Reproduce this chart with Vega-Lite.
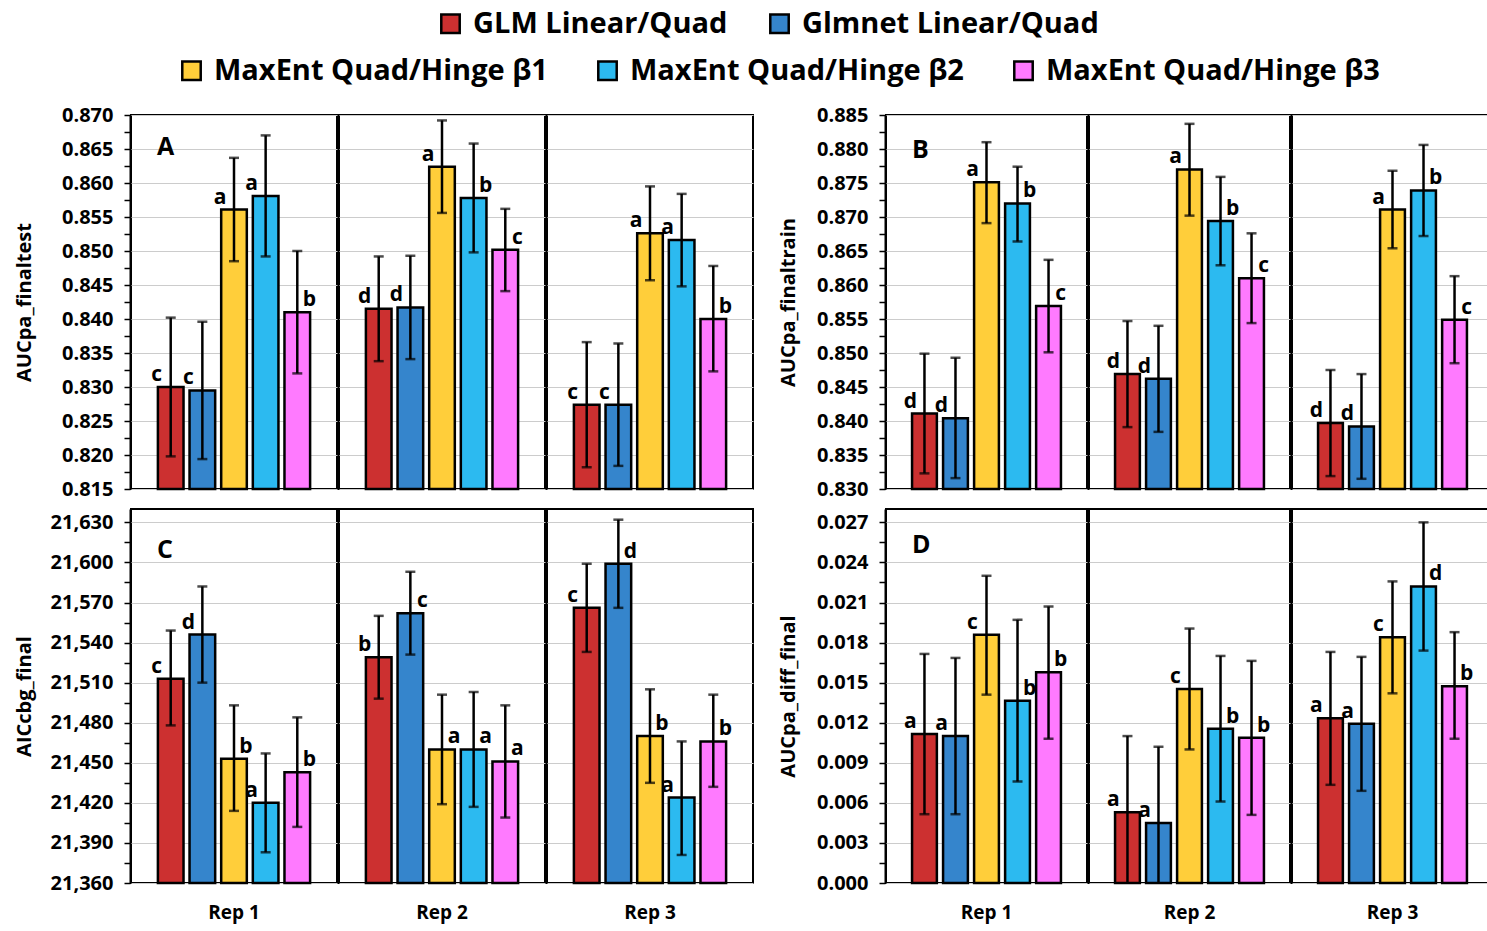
{
"$schema":"https://vega.github.io/schema/vega-lite/v6.json",
"background":"white",
"padding":{"left":14,"top":9,"right":0,"bottom":4},
"data":{"values":[
{"panel":"A","rep":"Rep 1","series":"GLM Linear/Quad","value":0.8300,"lo":0.8198,"hi":0.8402,"label":"c"},
{"panel":"A","rep":"Rep 1","series":"Glmnet Linear/Quad","value":0.8295,"lo":0.8194,"hi":0.8396,"label":"c"},
{"panel":"A","rep":"Rep 1","series":"MaxEnt Quad/Hinge β1","value":0.8561,"lo":0.8485,"hi":0.8637,"label":"a"},
{"panel":"A","rep":"Rep 1","series":"MaxEnt Quad/Hinge β2","value":0.8581,"lo":0.8492,"hi":0.8670,"label":"a"},
{"panel":"A","rep":"Rep 1","series":"MaxEnt Quad/Hinge β3","value":0.8410,"lo":0.8320,"hi":0.8500,"label":"b"},
{"panel":"A","rep":"Rep 2","series":"GLM Linear/Quad","value":0.8415,"lo":0.8338,"hi":0.8492,"label":"d"},
{"panel":"A","rep":"Rep 2","series":"Glmnet Linear/Quad","value":0.8417,"lo":0.8341,"hi":0.8493,"label":"d"},
{"panel":"A","rep":"Rep 2","series":"MaxEnt Quad/Hinge β1","value":0.8624,"lo":0.8556,"hi":0.8692,"label":"a"},
{"panel":"A","rep":"Rep 2","series":"MaxEnt Quad/Hinge β2","value":0.8578,"lo":0.8498,"hi":0.8658,"label":"b"},
{"panel":"A","rep":"Rep 2","series":"MaxEnt Quad/Hinge β3","value":0.8502,"lo":0.8441,"hi":0.8562,"label":"c"},
{"panel":"A","rep":"Rep 3","series":"GLM Linear/Quad","value":0.8274,"lo":0.8182,"hi":0.8366,"label":"c"},
{"panel":"A","rep":"Rep 3","series":"Glmnet Linear/Quad","value":0.8274,"lo":0.8184,"hi":0.8364,"label":"c"},
{"panel":"A","rep":"Rep 3","series":"MaxEnt Quad/Hinge β1","value":0.8526,"lo":0.8457,"hi":0.8595,"label":"a"},
{"panel":"A","rep":"Rep 3","series":"MaxEnt Quad/Hinge β2","value":0.8516,"lo":0.8448,"hi":0.8584,"label":"a"},
{"panel":"A","rep":"Rep 3","series":"MaxEnt Quad/Hinge β3","value":0.8400,"lo":0.8323,"hi":0.8478,"label":"b"},
{"panel":"B","rep":"Rep 1","series":"GLM Linear/Quad","value":0.8411,"lo":0.8323,"hi":0.8499,"label":"d"},
{"panel":"B","rep":"Rep 1","series":"Glmnet Linear/Quad","value":0.8404,"lo":0.8316,"hi":0.8493,"label":"d"},
{"panel":"B","rep":"Rep 1","series":"MaxEnt Quad/Hinge β1","value":0.8751,"lo":0.8691,"hi":0.8810,"label":"a"},
{"panel":"B","rep":"Rep 1","series":"MaxEnt Quad/Hinge β2","value":0.8720,"lo":0.8664,"hi":0.8774,"label":"b"},
{"panel":"B","rep":"Rep 1","series":"MaxEnt Quad/Hinge β3","value":0.8569,"lo":0.8501,"hi":0.8637,"label":"c"},
{"panel":"B","rep":"Rep 2","series":"GLM Linear/Quad","value":0.8469,"lo":0.8391,"hi":0.8547,"label":"d"},
{"panel":"B","rep":"Rep 2","series":"Glmnet Linear/Quad","value":0.8462,"lo":0.8384,"hi":0.8540,"label":"d"},
{"panel":"B","rep":"Rep 2","series":"MaxEnt Quad/Hinge β1","value":0.8770,"lo":0.8702,"hi":0.8837,"label":"a"},
{"panel":"B","rep":"Rep 2","series":"MaxEnt Quad/Hinge β2","value":0.8694,"lo":0.8629,"hi":0.8759,"label":"b"},
{"panel":"B","rep":"Rep 2","series":"MaxEnt Quad/Hinge β3","value":0.8610,"lo":0.8544,"hi":0.8676,"label":"c"},
{"panel":"B","rep":"Rep 3","series":"GLM Linear/Quad","value":0.8397,"lo":0.8319,"hi":0.8475,"label":"d"},
{"panel":"B","rep":"Rep 3","series":"Glmnet Linear/Quad","value":0.8392,"lo":0.8315,"hi":0.8469,"label":"d"},
{"panel":"B","rep":"Rep 3","series":"MaxEnt Quad/Hinge β1","value":0.8711,"lo":0.8654,"hi":0.8768,"label":"a"},
{"panel":"B","rep":"Rep 3","series":"MaxEnt Quad/Hinge β2","value":0.8739,"lo":0.8672,"hi":0.8806,"label":"b"},
{"panel":"B","rep":"Rep 3","series":"MaxEnt Quad/Hinge β3","value":0.8549,"lo":0.8485,"hi":0.8613,"label":"c"},
{"panel":"C","rep":"Rep 1","series":"GLM Linear/Quad","value":21513,"lo":21478,"hi":21549,"label":"c"},
{"panel":"C","rep":"Rep 1","series":"Glmnet Linear/Quad","value":21546,"lo":21510,"hi":21582,"label":"d"},
{"panel":"C","rep":"Rep 1","series":"MaxEnt Quad/Hinge β1","value":21453,"lo":21414,"hi":21493,"label":"b"},
{"panel":"C","rep":"Rep 1","series":"MaxEnt Quad/Hinge β2","value":21420,"lo":21383,"hi":21457,"label":"a"},
{"panel":"C","rep":"Rep 1","series":"MaxEnt Quad/Hinge β3","value":21443,"lo":21402,"hi":21484,"label":"b"},
{"panel":"C","rep":"Rep 2","series":"GLM Linear/Quad","value":21529,"lo":21498,"hi":21560,"label":"b"},
{"panel":"C","rep":"Rep 2","series":"Glmnet Linear/Quad","value":21562,"lo":21531,"hi":21593,"label":"c"},
{"panel":"C","rep":"Rep 2","series":"MaxEnt Quad/Hinge β1","value":21460,"lo":21419,"hi":21501,"label":"a"},
{"panel":"C","rep":"Rep 2","series":"MaxEnt Quad/Hinge β2","value":21460,"lo":21417,"hi":21503,"label":"a"},
{"panel":"C","rep":"Rep 2","series":"MaxEnt Quad/Hinge β3","value":21451,"lo":21409,"hi":21493,"label":"a"},
{"panel":"C","rep":"Rep 3","series":"GLM Linear/Quad","value":21566,"lo":21533,"hi":21599,"label":"c"},
{"panel":"C","rep":"Rep 3","series":"Glmnet Linear/Quad","value":21599,"lo":21566,"hi":21632,"label":"d"},
{"panel":"C","rep":"Rep 3","series":"MaxEnt Quad/Hinge β1","value":21470,"lo":21435,"hi":21505,"label":"b"},
{"panel":"C","rep":"Rep 3","series":"MaxEnt Quad/Hinge β2","value":21424,"lo":21381,"hi":21466,"label":"a"},
{"panel":"C","rep":"Rep 3","series":"MaxEnt Quad/Hinge β3","value":21466,"lo":21432,"hi":21501,"label":"b"},
{"panel":"D","rep":"Rep 1","series":"GLM Linear/Quad","value":0.01115,"lo":0.00515,"hi":0.01715,"label":"a"},
{"panel":"D","rep":"Rep 1","series":"Glmnet Linear/Quad","value":0.0110,"lo":0.00515,"hi":0.01685,"label":"a"},
{"panel":"D","rep":"Rep 1","series":"MaxEnt Quad/Hinge β1","value":0.01858,"lo":0.0141,"hi":0.0230,"label":"c"},
{"panel":"D","rep":"Rep 1","series":"MaxEnt Quad/Hinge β2","value":0.01365,"lo":0.0076,"hi":0.0197,"label":"b"},
{"panel":"D","rep":"Rep 1","series":"MaxEnt Quad/Hinge β3","value":0.01578,"lo":0.0108,"hi":0.0207,"label":"b"},
{"panel":"D","rep":"Rep 2","series":"GLM Linear/Quad","value":0.0053,"lo":-0.0004,"hi":0.0110,"label":"a"},
{"panel":"D","rep":"Rep 2","series":"Glmnet Linear/Quad","value":0.0045,"lo":-0.0012,"hi":0.0102,"label":"a"},
{"panel":"D","rep":"Rep 2","series":"MaxEnt Quad/Hinge β1","value":0.01453,"lo":0.0100,"hi":0.01905,"label":"c"},
{"panel":"D","rep":"Rep 2","series":"MaxEnt Quad/Hinge β2","value":0.01155,"lo":0.0061,"hi":0.0170,"label":"b"},
{"panel":"D","rep":"Rep 2","series":"MaxEnt Quad/Hinge β3","value":0.01088,"lo":0.0051,"hi":0.01663,"label":"b"},
{"panel":"D","rep":"Rep 3","series":"GLM Linear/Quad","value":0.01233,"lo":0.00735,"hi":0.0173,"label":"a"},
{"panel":"D","rep":"Rep 3","series":"Glmnet Linear/Quad","value":0.01193,"lo":0.0069,"hi":0.01693,"label":"a"},
{"panel":"D","rep":"Rep 3","series":"MaxEnt Quad/Hinge β1","value":0.0184,"lo":0.0142,"hi":0.02258,"label":"c"},
{"panel":"D","rep":"Rep 3","series":"MaxEnt Quad/Hinge β2","value":0.0222,"lo":0.0174,"hi":0.0270,"label":"d"},
{"panel":"D","rep":"Rep 3","series":"MaxEnt Quad/Hinge β3","value":0.01473,"lo":0.0108,"hi":0.01878,"label":"b"}
]},
"spacing":9,
"vconcat":[
{"spacing":24,"hconcat":[
{"transform":[{"filter":"datum.panel == 'A'"}],
 "title":{"text":"A","offset":-55},
 "facet":{"column":{"field":"rep","type":"nominal","title":null,"header":{"labels":false}}},
 "spacing":0,
 "spec":{"width":206,"height":374,"layer":[
  {"transform":[{"filter":{"field":"series","oneOf":["GLM Linear/Quad","Glmnet Linear/Quad"]}}],
   "mark":{"type":"bar","stroke":"black","strokeWidth":2.5},
   "encoding":{
    "x":{"field":"series","type":"nominal","sort":null,"scale":{"domain":["GLM Linear/Quad","Glmnet Linear/Quad","MaxEnt Quad/Hinge β1","MaxEnt Quad/Hinge β2","MaxEnt Quad/Hinge β3"],"paddingInner":0.19,"paddingOuter":0.85},"axis":null},
    "y":{"field":"value","type":"quantitative","stack":null,"scale":{"domain":[0.815,0.87],"nice":false,"zero":false},
     "axis":{"title":"AUCpa_finaltest","tickCount":100,"values":[0.815,0.8175,0.82,0.8225,0.825,0.8275,0.83,0.8325,0.835,0.8375,0.84,0.8425,0.845,0.8475,0.85,0.8525,0.855,0.8575,0.86,0.8625,0.865,0.8675,0.87],
      "labelExpr":"round(datum.value*10000) % 50 == 0 ? format(datum.value, '.3f') : ''","labelOverlap":false,
      "gridOpacity":{"condition":{"test":"round(datum.value*10000) % 50 != 0","value":0},"value":1},
      "minExtent":86,"maxExtent":86,"titlePadding":10}},
    "fill":{"field":"series","type":"nominal","scale":{"domain":["GLM Linear/Quad","Glmnet Linear/Quad"],"range":["#CC3030","#3585CC"]},
     "legend":{"orient":"none","legendX":305,"legendY":-106,"direction":"horizontal","title":null,"columnPadding":37}}}},
  {"transform":[{"filter":{"field":"series","oneOf":["MaxEnt Quad/Hinge β1","MaxEnt Quad/Hinge β2","MaxEnt Quad/Hinge β3"]}}],
   "mark":{"type":"bar","stroke":"black","strokeWidth":2.5},
   "encoding":{
    "x":{"field":"series","type":"nominal","sort":null},
    "y":{"field":"value","type":"quantitative","stack":null},
    "color":{"field":"series","type":"nominal","scale":{"domain":["MaxEnt Quad/Hinge β1","MaxEnt Quad/Hinge β2","MaxEnt Quad/Hinge β3"],"range":["#FFCE3A","#2CBAF0","#FF7AFF"]},
     "legend":{"orient":"none","legendX":46,"legendY":-59,"direction":"horizontal","title":null,"columnPadding":45}}}},
  {"mark":{"type":"rule","color":"black","strokeWidth":2.5,"clip":true},
   "encoding":{"x":{"field":"series","type":"nominal","sort":null},"y":{"field":"lo","type":"quantitative"},"y2":{"field":"hi"}}},
  {"mark":{"type":"tick","color":"black","thickness":2.5,"size":10,"clip":true},
   "encoding":{"x":{"field":"series","type":"nominal","sort":null},"y":{"field":"hi","type":"quantitative"}}},
  {"mark":{"type":"tick","color":"black","thickness":2.5,"size":10,"clip":true},
   "encoding":{"x":{"field":"series","type":"nominal","sort":null},"y":{"field":"lo","type":"quantitative"}}},
  {"transform":[{"filter":"!(datum.series == 'MaxEnt Quad/Hinge β3' || (datum.series == 'MaxEnt Quad/Hinge β2' && datum.rep == 'Rep 2'))"}],
   "mark":{"type":"text","dx":-14,"dy":-6,"baseline":"alphabetic","align":"center","font":"Open Sans","fontSize":21,"fontWeight":"bold","color":"black"},
   "encoding":{"x":{"field":"series","type":"nominal","sort":null},"y":{"field":"value","type":"quantitative"},"text":{"field":"label"}}},
  {"transform":[{"filter":"datum.series == 'MaxEnt Quad/Hinge β3' || (datum.series == 'MaxEnt Quad/Hinge β2' && datum.rep == 'Rep 2')"}],
   "mark":{"type":"text","dx":12,"dy":-6,"baseline":"alphabetic","align":"center","font":"Open Sans","fontSize":21,"fontWeight":"bold","color":"black"},
   "encoding":{"x":{"field":"series","type":"nominal","sort":null},"y":{"field":"value","type":"quantitative"},"text":{"field":"label"}}}
 ]}},
{"transform":[{"filter":"datum.panel == 'B'"}],
 "title":{"text":"B","offset":-58},
 "facet":{"column":{"field":"rep","type":"nominal","title":null,"header":{"labels":false}}},
 "spacing":0,
 "spec":{"width":201,"height":374,"layer":[
  {"transform":[{"filter":{"field":"series","oneOf":["GLM Linear/Quad","Glmnet Linear/Quad"]}}],
   "mark":{"type":"bar","stroke":"black","strokeWidth":2.5},
   "encoding":{
    "x":{"field":"series","type":"nominal","sort":null,"scale":{"domain":["GLM Linear/Quad","Glmnet Linear/Quad","MaxEnt Quad/Hinge β1","MaxEnt Quad/Hinge β2","MaxEnt Quad/Hinge β3"],"paddingInner":0.2,"paddingOuter":0.84},"axis":null},
    "y":{"field":"value","type":"quantitative","stack":null,"scale":{"domain":[0.83,0.885],"nice":false,"zero":false},
     "axis":{"title":"AUCpa_finaltrain","tickCount":100,"values":[0.83,0.8325,0.835,0.8375,0.84,0.8425,0.845,0.8475,0.85,0.8525,0.855,0.8575,0.86,0.8625,0.865,0.8675,0.87,0.8725,0.875,0.8775,0.88,0.8825,0.885],
      "labelExpr":"round(datum.value*10000) % 50 == 0 ? format(datum.value, '.3f') : ''","labelOverlap":false,
      "gridOpacity":{"condition":{"test":"round(datum.value*10000) % 50 != 0","value":0},"value":1},
      "minExtent":70,"maxExtent":70,"titlePadding":17}},
    "fill":{"field":"series","type":"nominal"}}},
  {"transform":[{"filter":{"field":"series","oneOf":["MaxEnt Quad/Hinge β1","MaxEnt Quad/Hinge β2","MaxEnt Quad/Hinge β3"]}}],
   "mark":{"type":"bar","stroke":"black","strokeWidth":2.5},
   "encoding":{"x":{"field":"series","type":"nominal","sort":null},"y":{"field":"value","type":"quantitative","stack":null},"color":{"field":"series","type":"nominal"}}},
  {"mark":{"type":"rule","color":"black","strokeWidth":2.5,"clip":true},
   "encoding":{"x":{"field":"series","type":"nominal","sort":null},"y":{"field":"lo","type":"quantitative"},"y2":{"field":"hi"}}},
  {"mark":{"type":"tick","color":"black","thickness":2.5,"size":10,"clip":true},
   "encoding":{"x":{"field":"series","type":"nominal","sort":null},"y":{"field":"hi","type":"quantitative"}}},
  {"mark":{"type":"tick","color":"black","thickness":2.5,"size":10,"clip":true},
   "encoding":{"x":{"field":"series","type":"nominal","sort":null},"y":{"field":"lo","type":"quantitative"}}},
  {"transform":[{"filter":{"not":{"field":"series","oneOf":["MaxEnt Quad/Hinge β2","MaxEnt Quad/Hinge β3"]}}}],
   "mark":{"type":"text","dx":-14,"dy":-6,"baseline":"alphabetic","align":"center","font":"Open Sans","fontSize":21,"fontWeight":"bold","color":"black"},
   "encoding":{"x":{"field":"series","type":"nominal","sort":null},"y":{"field":"value","type":"quantitative"},"text":{"field":"label"}}},
  {"transform":[{"filter":{"field":"series","oneOf":["MaxEnt Quad/Hinge β2","MaxEnt Quad/Hinge β3"]}}],
   "mark":{"type":"text","dx":12,"dy":-6,"baseline":"alphabetic","align":"center","font":"Open Sans","fontSize":21,"fontWeight":"bold","color":"black"},
   "encoding":{"x":{"field":"series","type":"nominal","sort":null},"y":{"field":"value","type":"quantitative"},"text":{"field":"label"}}}
 ]}}
]},
{"spacing":24,"hconcat":[
{"transform":[{"filter":"datum.panel == 'C'"}],
 "title":{"text":"C","offset":-55},
 "facet":{"column":{"field":"rep","type":"nominal","title":null,"header":{"labelOrient":"bottom"}}},
 "spacing":0,
 "spec":{"width":206,"height":374,"layer":[
  {"transform":[{"filter":{"field":"series","oneOf":["GLM Linear/Quad","Glmnet Linear/Quad"]}}],
   "mark":{"type":"bar","stroke":"black","strokeWidth":2.5},
   "encoding":{
    "x":{"field":"series","type":"nominal","sort":null,"scale":{"domain":["GLM Linear/Quad","Glmnet Linear/Quad","MaxEnt Quad/Hinge β1","MaxEnt Quad/Hinge β2","MaxEnt Quad/Hinge β3"],"paddingInner":0.19,"paddingOuter":0.85},"axis":null},
    "y":{"field":"value","type":"quantitative","stack":null,"scale":{"domain":[21360,21640],"nice":false,"zero":false},
     "axis":{"title":"AICcbg_final","tickCount":100,"values":[21360,21375,21390,21405,21420,21435,21450,21465,21480,21495,21510,21525,21540,21555,21570,21585,21600,21615,21630],
      "labelExpr":"round(datum.value/15) % 2 == 1 ? '' : format(datum.value, ',')","labelOverlap":false,
      "gridOpacity":{"condition":{"test":"round(datum.value/15) % 2 == 1","value":0},"value":1},
      "minExtent":86,"maxExtent":86,"titlePadding":10}},
    "fill":{"field":"series","type":"nominal"}}},
  {"transform":[{"filter":{"field":"series","oneOf":["MaxEnt Quad/Hinge β1","MaxEnt Quad/Hinge β2","MaxEnt Quad/Hinge β3"]}}],
   "mark":{"type":"bar","stroke":"black","strokeWidth":2.5},
   "encoding":{"x":{"field":"series","type":"nominal","sort":null},"y":{"field":"value","type":"quantitative","stack":null},"color":{"field":"series","type":"nominal"}}},
  {"mark":{"type":"rule","color":"black","strokeWidth":2.5,"clip":true},
   "encoding":{"x":{"field":"series","type":"nominal","sort":null},"y":{"field":"lo","type":"quantitative"},"y2":{"field":"hi"}}},
  {"mark":{"type":"tick","color":"black","thickness":2.5,"size":10,"clip":true},
   "encoding":{"x":{"field":"series","type":"nominal","sort":null},"y":{"field":"hi","type":"quantitative"}}},
  {"mark":{"type":"tick","color":"black","thickness":2.5,"size":10,"clip":true},
   "encoding":{"x":{"field":"series","type":"nominal","sort":null},"y":{"field":"lo","type":"quantitative"}}},
  {"transform":[{"filter":"!(datum.series == 'MaxEnt Quad/Hinge β1' || datum.series == 'MaxEnt Quad/Hinge β3' || (datum.series == 'MaxEnt Quad/Hinge β2' && datum.rep == 'Rep 2') || (datum.series == 'Glmnet Linear/Quad' && datum.rep != 'Rep 1'))"}],
   "mark":{"type":"text","dx":-14,"dy":-6,"baseline":"alphabetic","align":"center","font":"Open Sans","fontSize":21,"fontWeight":"bold","color":"black"},
   "encoding":{"x":{"field":"series","type":"nominal","sort":null},"y":{"field":"value","type":"quantitative"},"text":{"field":"label"}}},
  {"transform":[{"filter":"datum.series == 'MaxEnt Quad/Hinge β1' || datum.series == 'MaxEnt Quad/Hinge β3' || (datum.series == 'MaxEnt Quad/Hinge β2' && datum.rep == 'Rep 2') || (datum.series == 'Glmnet Linear/Quad' && datum.rep != 'Rep 1')"}],
   "mark":{"type":"text","dx":12,"dy":-6,"baseline":"alphabetic","align":"center","font":"Open Sans","fontSize":21,"fontWeight":"bold","color":"black"},
   "encoding":{"x":{"field":"series","type":"nominal","sort":null},"y":{"field":"value","type":"quantitative"},"text":{"field":"label"}}}
 ]}},
{"transform":[{"filter":"datum.panel == 'D'"}],
 "title":{"text":"D","offset":-50},
 "facet":{"column":{"field":"rep","type":"nominal","title":null,"header":{"labelOrient":"bottom"}}},
 "spacing":0,
 "spec":{"width":201,"height":374,"layer":[
  {"transform":[{"filter":{"field":"series","oneOf":["GLM Linear/Quad","Glmnet Linear/Quad"]}}],
   "mark":{"type":"bar","stroke":"black","strokeWidth":2.5},
   "encoding":{
    "x":{"field":"series","type":"nominal","sort":null,"scale":{"domain":["GLM Linear/Quad","Glmnet Linear/Quad","MaxEnt Quad/Hinge β1","MaxEnt Quad/Hinge β2","MaxEnt Quad/Hinge β3"],"paddingInner":0.2,"paddingOuter":0.84},"axis":null},
    "y":{"field":"value","type":"quantitative","stack":null,"scale":{"domain":[0,0.028],"nice":false,"zero":false},
     "axis":{"title":"AUCpa_diff_final","tickCount":100,"values":[0,0.0015,0.003,0.0045,0.006,0.0075,0.009,0.0105,0.012,0.0135,0.015,0.0165,0.018,0.0195,0.021,0.0225,0.024,0.0255,0.027],
      "labelExpr":"round(datum.value/0.0015) % 2 == 1 ? '' : format(datum.value, '.3f')","labelOverlap":false,
      "gridOpacity":{"condition":{"test":"round(datum.value/0.0015) % 2 == 1","value":0},"value":1},
      "minExtent":70,"maxExtent":70,"titlePadding":17}},
    "fill":{"field":"series","type":"nominal"}}},
  {"transform":[{"filter":{"field":"series","oneOf":["MaxEnt Quad/Hinge β1","MaxEnt Quad/Hinge β2","MaxEnt Quad/Hinge β3"]}}],
   "mark":{"type":"bar","stroke":"black","strokeWidth":2.5},
   "encoding":{"x":{"field":"series","type":"nominal","sort":null},"y":{"field":"value","type":"quantitative","stack":null},"color":{"field":"series","type":"nominal"}}},
  {"mark":{"type":"rule","color":"black","strokeWidth":2.5,"clip":true},
   "encoding":{"x":{"field":"series","type":"nominal","sort":null},"y":{"field":"lo","type":"quantitative"},"y2":{"field":"hi"}}},
  {"mark":{"type":"tick","color":"black","thickness":2.5,"size":10,"clip":true},
   "encoding":{"x":{"field":"series","type":"nominal","sort":null},"y":{"field":"hi","type":"quantitative"}}},
  {"mark":{"type":"tick","color":"black","thickness":2.5,"size":10,"clip":true},
   "encoding":{"x":{"field":"series","type":"nominal","sort":null},"y":{"field":"lo","type":"quantitative"}}},
  {"transform":[{"filter":{"not":{"field":"series","oneOf":["MaxEnt Quad/Hinge β2","MaxEnt Quad/Hinge β3"]}}}],
   "mark":{"type":"text","dx":-14,"dy":-6,"baseline":"alphabetic","align":"center","font":"Open Sans","fontSize":21,"fontWeight":"bold","color":"black"},
   "encoding":{"x":{"field":"series","type":"nominal","sort":null},"y":{"field":"value","type":"quantitative"},"text":{"field":"label"}}},
  {"transform":[{"filter":{"field":"series","oneOf":["MaxEnt Quad/Hinge β2","MaxEnt Quad/Hinge β3"]}}],
   "mark":{"type":"text","dx":12,"dy":-6,"baseline":"alphabetic","align":"center","font":"Open Sans","fontSize":21,"fontWeight":"bold","color":"black"},
   "encoding":{"x":{"field":"series","type":"nominal","sort":null},"y":{"field":"value","type":"quantitative"},"text":{"field":"label"}}}
 ]}}
]}
],
"config":{
 "font":"Open Sans",
 "view":{"stroke":"black","strokeWidth":2},
 "axisY":{"domainColor":"black","domainWidth":2,"tickColor":"black","tickWidth":1.5,"tickSize":6,"labelFont":"Open Sans","labelFontSize":20,"labelFontWeight":"bold","labelColor":"black","labelPadding":11,"labelOverlap":false,"labelFlush":false,"titleFont":"Open Sans","titleFontSize":20,"titleFontWeight":"bold","titleColor":"black","gridColor":"#CCCCCC","gridWidth":1.2},
 "title":{"anchor":"start","frame":"group","font":"Open Sans","fontSize":25,"fontWeight":"bold","color":"black","offset":-45,"dx":26},
 "header":{"labelFont":"Open Sans","labelFontSize":19,"labelFontWeight":"bold","labelColor":"black","labelPadding":18},
 "legend":{"symbolType":"square","symbolSize":340,"symbolStrokeColor":"black","symbolStrokeWidth":2.5,"labelFont":"Open Sans","labelFontSize":29,"labelFontWeight":"bold","labelColor":"black","labelOffset":8,"labelLimit":700,"padding":0}
}
}
